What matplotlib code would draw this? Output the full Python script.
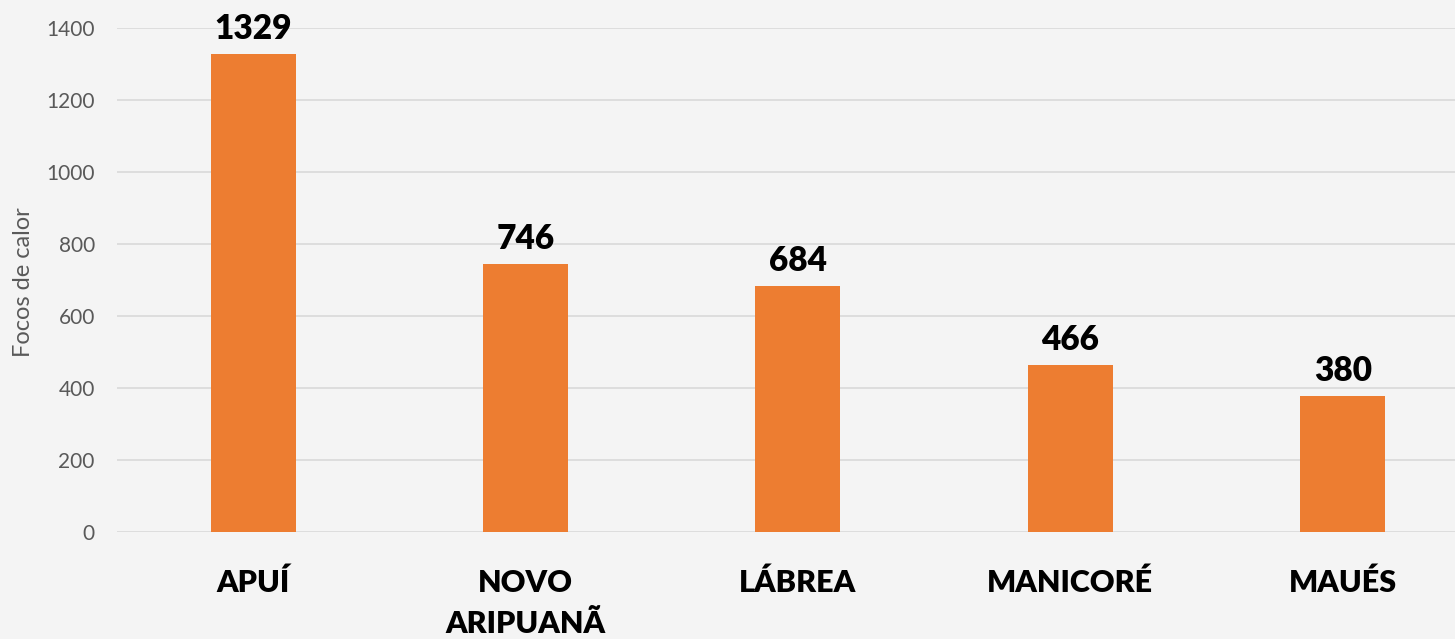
import matplotlib.pyplot as plt

plt.rcParams['font.family'] = ['Lato', 'DejaVu Sans']

municipios = ['APUÍ', 'NOVO\nARIPUANÃ', 'LÁBREA', 'MANICORÉ', 'MAUÉS']
focos = [1329, 746, 684, 466, 380]

bg = '#f4f4f4'
fig = plt.figure(figsize=(14.55, 6.39), dpi=100, facecolor=bg)
ax = fig.add_axes([0.0804, 0.1667, 0.936, 0.7887], facecolor=bg)

x = range(len(municipios))
bars = ax.bar(x, focos, width=0.312, color='#ed7d31', zorder=3)

for xi, v in zip(x, focos):
    ax.text(xi, v + 25, str(v), ha='center', va='bottom',
            fontsize=24, fontweight='heavy', color='black')

ax.set_xlim(-0.5, 4.5)
ax.set_ylim(0, 1400)
ax.set_yticks(range(0, 1401, 200))
ax.grid(axis='y', color='#d9d9d9', linewidth=1.2, zorder=0)
ax.tick_params(axis='y', length=0, labelsize=15, labelcolor='#595959', pad=16)
ax.tick_params(axis='x', length=0, pad=26)
ax.set_xticks(list(x))
ax.set_xticklabels(municipios, fontsize=22, fontweight='heavy', linespacing=1.6, va='top')
for s in ax.spines.values():
    s.set_visible(False)
fig.text(24 / 1455, 0.559, 'Focos de calor', rotation=90, ha='center', va='center',
         fontsize=17, color='#595959')

fig.savefig('out.png', dpi=100, facecolor=bg)
